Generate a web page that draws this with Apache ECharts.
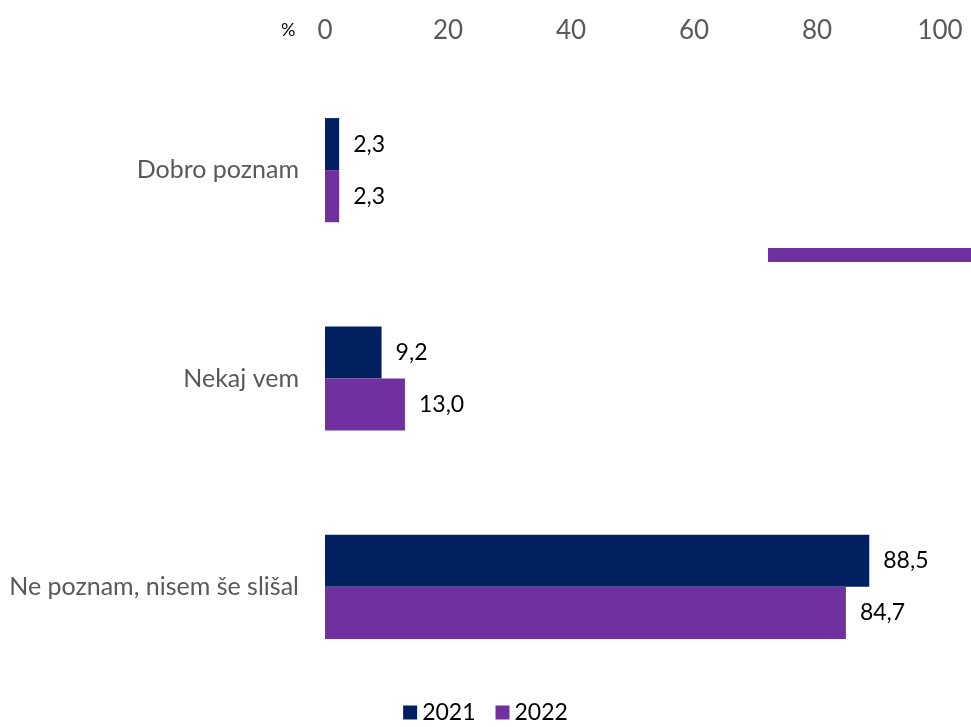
<!DOCTYPE html>
<html>
<head>
<meta charset="utf-8">
<script src="https://cdn.jsdelivr.net/npm/echarts@6/dist/echarts.min.js"></script>
<style>html,body{margin:0;padding:0;background:#fff}#c{width:971px;height:727px}</style>
</head>
<body>
<div id="c"></div>
<script>
const categories = ['Dobro poznam', 'Nekaj vem', 'Ne poznam, nisem še slišal'];
const seriesNames = ['2021', '2022'];
const values2021 = [2.3, 9.2, 88.5];
const values2022 = [2.3, 13.0, 84.7];
const xTicks = [0, 20, 40, 60, 80, 100];

const FONT = 'Lato, "Open Sans", sans-serif';
const chart = echarts.init(document.getElementById('c'), null, {renderer: 'canvas'});
const lbl = {
  show: true, position: 'right', distance: 14, color: '#000', fontSize: 23, fontFamily: FONT,
  formatter: p => p.value.toFixed(1).replace('.', ',')
};
chart.setOption({
  animation: false,
  grid: {left: 325, right: 31, top: 66, bottom: 36, containLabel: false},
  legend: {
    bottom: -2, left: 'center', itemWidth: 14, itemHeight: 14, itemGap: 20, itemTextGap: 6,
    icon: 'rect',
    textStyle: {fontSize: 23, color: '#000', fontFamily: FONT},
    data: seriesNames
  },
  xAxis: {
    type: 'value', position: 'top', min: xTicks[0], max: xTicks[xTicks.length - 1], interval: 20,
    axisLine: {show: false}, axisTick: {show: false}, splitLine: {show: false},
    axisLabel: {fontSize: 26, color: '#595959', fontFamily: FONT, margin: 22}
  },
  yAxis: {
    type: 'category', inverse: true, data: categories,
    axisLine: {show: false}, axisTick: {show: false},
    axisLabel: {fontSize: 25, color: '#595959', fontFamily: FONT, margin: 26}
  },
  graphic: [
    {type: 'text', left: 281, top: 21, style: {text: '%', fill: '#000', font: '18px ' + FONT}},
    {type: 'rect', shape: {x: 768, y: 248, width: 203, height: 14}, style: {fill: '#7030A0'}}
  ],
  series: [
    {name: seriesNames[0], type: 'bar', data: values2021, barGap: '0%', barCategoryGap: '50%',
     itemStyle: {color: '#002060'}, label: lbl},
    {name: seriesNames[1], type: 'bar', data: values2022, barGap: '0%', barCategoryGap: '50%',
     itemStyle: {color: '#7030A0'}, label: lbl}
  ]
});
</script>
</body>
</html>
